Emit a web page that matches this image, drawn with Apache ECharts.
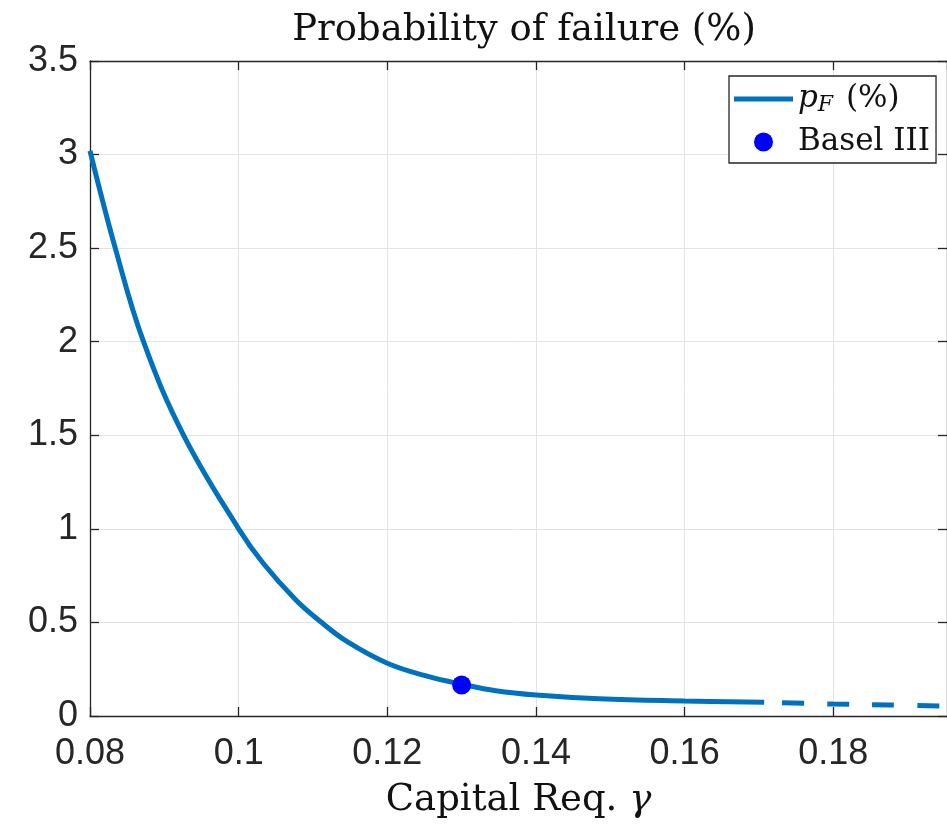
<!DOCTYPE html>
<html>
<head>
<meta charset="utf-8">
<script src="https://cdn.jsdelivr.net/npm/echarts@6/dist/echarts.min.js"></script>
<style>html,body{margin:0;padding:0;background:#fff}#c{width:947px;height:827px}</style>
</head>
<body>
<div id="c"></div>
<script>
// ---- data ----
const gammaSolid = [0.080, 0.0834, 0.0872, 0.0926, 0.100, 0.1033, 0.1077, 0.111, 0.1145, 0.120, 0.1256, 0.130, 0.1346, 0.140, 0.1485, 0.160, 0.1707];
const pfSolid    = [3.02,  2.50,   2.00,   1.50,   1.00,  0.816,  0.62,   0.505, 0.40,   0.282, 0.21,   0.17,  0.135,  0.112, 0.092,  0.080, 0.073];
const gammaDashed = [0.1707, 0.180, 0.1875, 0.1953];
const pfDashed    = [0.073,  0.064, 0.059,  0.053];
const baselGamma = [0.130];
const baselPf    = [0.166];
const xTickStep = 0.02, xMin = 0.08, xMax = 0.1953;
const yTickStep = 0.5, yMin = 0, yMax = 3.5;
const titleText = 'Probability of failure (%)';
const xNameMain = 'Capital Req.';
const xNameSym = 'γ';
const legendLine = 'p_F (%)';
const legendMarker = 'Basel III';

const zip = (a, b) => a.map((v, i) => [v, b[i]]);
const axisColor = '#262626';
const gridColor = '#e3e3e3';
const lineBlue = '#0072BD';
const serif = '"DejaVu Serif"';

const chart = echarts.init(document.getElementById('c'), null, {renderer: 'canvas'});
const baseX = {
  type: 'value', min: xMin, max: xMax, interval: xTickStep,
  axisLine: {show: true, onZero: false, lineStyle: {color: axisColor, width: 1.3}},
  axisTick: {show: true, inside: true, length: 9, lineStyle: {color: axisColor, width: 1.3}}
};
const baseY = {
  type: 'value', min: yMin, max: yMax, interval: yTickStep,
  axisLine: {show: true, onZero: false, lineStyle: {color: axisColor, width: 1.3}},
  axisTick: {show: true, inside: true, length: 9, lineStyle: {color: axisColor, width: 1.3}}
};
chart.setOption({
  animation: false,
  backgroundColor: '#ffffff',
  grid: {left: 90, right: -2, top: 61, bottom: 111, containLabel: false},
  graphic: [{
    type: 'text', x: 524, y: 30, z: 10,
    style: {text: titleText, align: 'center', verticalAlign: 'middle',
      font: '37px ' + serif, fill: '#111'}
  }],
  xAxis: [
    Object.assign({}, baseX, {
      position: 'bottom',
      axisLabel: {show: true, showMaxLabel: false, margin: 20, color: axisColor,
        fontFamily: 'Liberation Sans', fontSize: 36,
        formatter: v => String(+(+v).toFixed(3))},
      splitLine: {show: true, lineStyle: {color: gridColor, width: 1}},
      name: '{n|' + xNameMain + '} {g|' + xNameSym + '}', nameLocation: 'middle', nameGap: 66,
      nameTextStyle: {
        fontFamily: serif, fontSize: 37, color: '#111',
        rich: {
          n: {fontFamily: serif, fontSize: 37, color: '#111'},
          g: {fontFamily: serif, fontStyle: 'italic', fontSize: 37, color: '#111'}
        }
      }
    }),
    Object.assign({}, baseX, {
      position: 'top', axisLabel: {show: false}, splitLine: {show: false}
    })
  ],
  yAxis: [
    Object.assign({}, baseY, {
      position: 'left',
      axisLabel: {show: true, margin: 12, color: axisColor,
        fontFamily: 'Liberation Sans', fontSize: 36,
        formatter: v => String(+(+v).toFixed(2))},
      splitLine: {show: true, lineStyle: {color: gridColor, width: 1}}
    }),
    Object.assign({}, baseY, {
      position: 'right', axisLabel: {show: false}, splitLine: {show: false}
    })
  ],
  legend: {
    show: true, orient: 'vertical', left: 729, top: 76,
    padding: [5, 6, 3, 5], itemGap: 7, itemWidth: 59, itemHeight: 19,
    borderColor: '#262626', borderWidth: 1.3, backgroundColor: '#fff',
    data: [
      {name: legendLine, icon: 'path://M0 0H59V5H0Z'},
      {name: legendMarker, icon: 'circle'}
    ],
    formatter: function (name) {
      if (name === legendLine) return '{it|p}{sub|F} {t|(%)}';
      return name;
    },
    textStyle: {
      fontFamily: serif, fontSize: 31, color: '#111', lineHeight: 36,
      rich: {
        it: {fontFamily: serif, fontStyle: 'italic', fontSize: 31, color: '#111', lineHeight: 36},
        sub: {fontFamily: serif, fontStyle: 'italic', fontSize: 22, color: '#111', padding: [12, 3, 0, 0]},
        t: {fontFamily: serif, fontSize: 31, color: '#111', lineHeight: 36}
      }
    }
  },
  series: [
    {
      name: legendLine, type: 'line', xAxisIndex: 0, yAxisIndex: 0,
      data: zip(gammaSolid, pfSolid), showSymbol: false, symbol: 'none',
      smooth: 0.4,
      lineStyle: {color: lineBlue, width: 5, cap: 'butt'}, itemStyle: {color: lineBlue}
    },
    {
      name: 'dashed', type: 'line', xAxisIndex: 0, yAxisIndex: 0,
      data: zip(gammaDashed, pfDashed), showSymbol: false, symbol: 'none',
      smooth: 0.4,
      lineStyle: {color: lineBlue, width: 5, type: [22, 23], dashOffset: 27, cap: 'butt'}
    },
    {
      name: legendMarker, type: 'scatter', xAxisIndex: 0, yAxisIndex: 0,
      data: zip(baselGamma, baselPf), symbol: 'circle', symbolSize: 19, z: 5,
      itemStyle: {color: '#0000ff', opacity: 1}
    }
  ]
});
</script>
</body>
</html>
